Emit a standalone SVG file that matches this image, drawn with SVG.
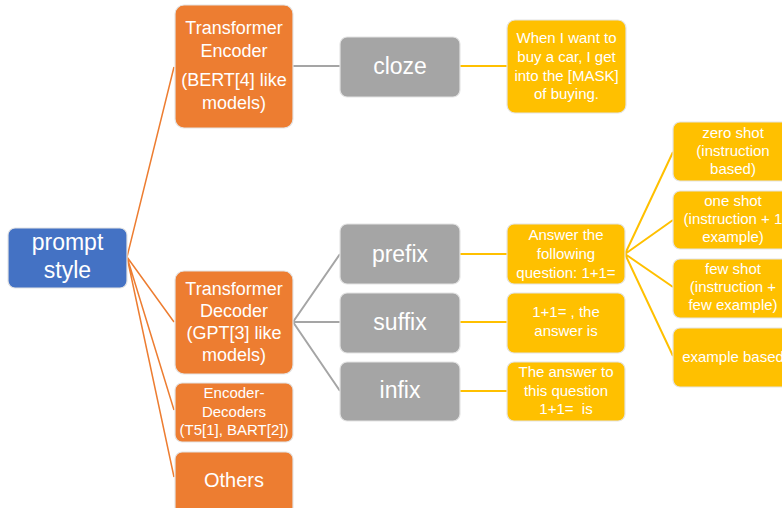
<svg xmlns="http://www.w3.org/2000/svg" width="782" height="508" viewBox="0 0 782 508">
<style>
.n{stroke:#e4e4e4;stroke-width:1.2}
.b{fill:#4472C4}.o{fill:#ED7D31}.g{fill:#A5A5A5}.y{fill:#FFC000}
text{font-family:"Liberation Sans",Arial,sans-serif;fill:#fff;text-anchor:middle;white-space:pre}
.t24{font-size:23px}.t18{font-size:18px}.t20{font-size:20px}.t15{font-size:15px}.t14{font-size:15px}
.co{stroke:#ED7D31;stroke-width:1.5;fill:none}
.cg{stroke:#A5A5A5;stroke-width:2;fill:none}
.cy{stroke:#FFC000;stroke-width:2;fill:none}
</style>
<rect width="782" height="508" fill="#fff"/>
<g id="connectors">
<path class="co" d="M127 257L174 67M127 257L174 322M127 257L174 410M127 257L174 477"/>
<path class="cg" d="M293 66H340M293 322L340 254M293 322H340M293 322L340 391"/>
<path class="cy" d="M460 66H507M460 254H507M460 322H507M460 391H507"/>
<path class="cy" d="M625 254L673 152M625 254L673 220M625 254L673 287M625 254L673 356"/>
</g>
<g id="prompt-style"><rect class="n b" x="8" y="228" width="119" height="60" rx="7"/><text class="t24" x="67.5" y="250">prompt</text><text class="t24" x="67.5" y="278">style</text></g>
<g id="transformer-encoder"><rect class="n o" x="175" y="5" width="118" height="123" rx="9"/><text class="t18" x="234" y="34">Transformer</text><text class="t18" x="234" y="57">Encoder</text><text class="t18" x="234" y="86">(BERT[4] like</text><text class="t18" x="234" y="109">models)</text></g>
<g id="transformer-decoder"><rect class="n o" x="175" y="271" width="118" height="103" rx="9"/><text class="t18" x="234" y="295">Transformer</text><text class="t18" x="234" y="317">Decoder</text><text class="t18" x="234" y="339">(GPT[3] like</text><text class="t18" x="234" y="361">models)</text></g>
<g id="encoder-decoders"><rect class="n o" x="175" y="383" width="118" height="59" rx="7"/><text class="t15" x="234" y="398">Encoder-</text><text class="t15" x="234" y="417">Decoders</text><text class="t15" x="234" y="435">(T5[1], BART[2])</text></g>
<g id="others"><rect class="n o" x="175" y="452" width="118" height="70" rx="7"/><text class="t20" x="234" y="487">Others</text></g>
<g id="cloze"><rect class="n g" x="340" y="37" width="120" height="60" rx="7"/><text class="t24" x="400" y="74">cloze</text></g>
<g id="prefix"><rect class="n g" x="340" y="224" width="120" height="60" rx="7"/><text class="t24" x="400" y="262">prefix</text></g>
<g id="suffix"><rect class="n g" x="340" y="293" width="120" height="60" rx="7"/><text class="t24" x="400" y="330">suffix</text></g>
<g id="infix"><rect class="n g" x="340" y="362" width="120" height="59" rx="7"/><text class="t24" x="400" y="398">infix</text></g>
<g id="cloze-example"><rect class="n y" x="507" y="20" width="119" height="93" rx="8"/><text class="t15" x="566.5" y="43">When I want to</text><text class="t15" x="566.5" y="62">buy a car, I get</text><text class="t15" x="566.5" y="81">into the [MASK]</text><text class="t15" x="566.5" y="99">of buying.</text></g>
<g id="prefix-example"><rect class="n y" x="507" y="224" width="118" height="60" rx="7"/><text class="t15" x="566" y="240">Answer the</text><text class="t15" x="566" y="259">following</text><text class="t15" x="566" y="278">question: 1+1=</text></g>
<g id="suffix-example"><rect class="n y" x="507" y="293" width="118" height="60" rx="7"/><text class="t15" x="566" y="317">1+1= , the</text><text class="t15" x="566" y="336">answer is</text></g>
<g id="infix-example"><rect class="n y" x="507" y="362" width="118" height="59" rx="7"/><text class="t15" x="566" y="377">The answer to</text><text class="t15" x="566" y="396">this question</text><text class="t15" x="566" y="414">1+1=  is</text></g>
<g id="zero-shot"><rect class="n y" x="673" y="122" width="120" height="59" rx="7"/><text class="t14" x="733" y="138">zero shot</text><text class="t14" x="733" y="156">(instruction</text><text class="t14" x="733" y="174">based)</text></g>
<g id="one-shot"><rect class="n y" x="673" y="191" width="120" height="58" rx="7"/><text class="t14" x="733" y="206">one shot</text><text class="t14" x="733" y="224">(instruction + 1</text><text class="t14" x="733" y="242">example)</text></g>
<g id="few-shot"><rect class="n y" x="673" y="259" width="120" height="59" rx="7"/><text class="t14" x="733" y="274">few shot</text><text class="t14" x="733" y="292">(instruction +</text><text class="t14" x="733" y="310">few example)</text></g>
<g id="example-based"><rect class="n y" x="673" y="328" width="120" height="59" rx="7"/><text class="t14" x="733" y="362">example based</text></g>
</svg>
